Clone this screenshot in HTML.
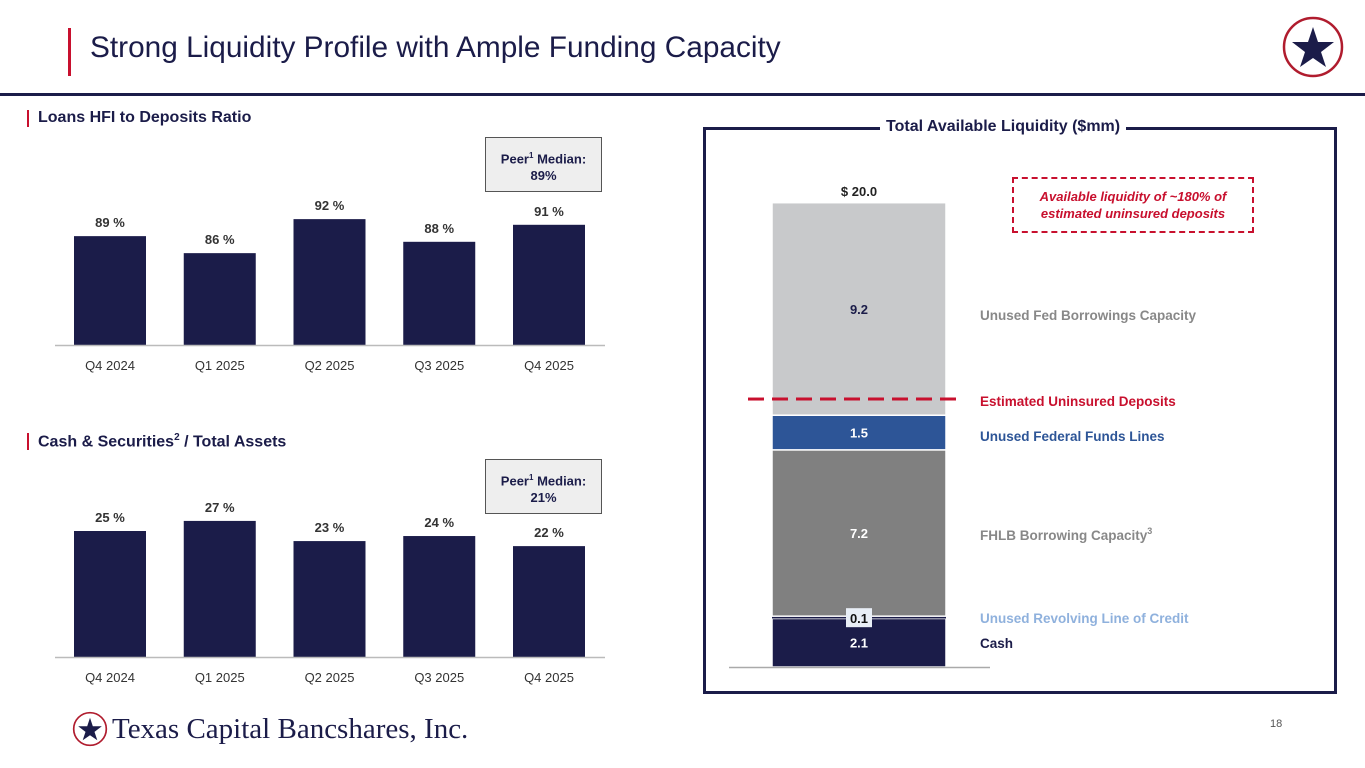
<!DOCTYPE html>
<html><head><meta charset="utf-8">
<style>
body{margin:0;width:1365px;height:768px;background:#fff;font-family:"Liberation Sans",Arial,sans-serif;overflow:hidden;position:relative}
.abs{position:absolute}
.b{font-weight:bold}
</style></head><body>
<div class="abs" style="left:68px;top:28px;width:3px;height:48px;background:#c8102e"></div>
<div class="abs" style="left:90px;top:31px;font-size:29.8px;color:#1b1c49">Strong Liquidity Profile with Ample Funding Capacity</div>
<svg class="abs" style="left:1281px;top:15px" width="64" height="64" viewBox="0 0 64 64"><circle cx="32" cy="32" r="29" fill="#fff" stroke="#b01c2e" stroke-width="2.5"/><polygon points="32,12 37,27 53,27 40,37 45,52 32,43 19,52 24,37 11,27 27,27" fill="#1b1c49"/></svg>
<div class="abs" style="left:0;top:93px;width:1365px;height:3px;background:#1b1c49"></div>

<div class="abs" style="left:27px;top:110px;width:2px;height:17px;background:#c8102e"></div>
<div class="abs b" style="left:38px;top:109px;font-size:16px;color:#1b1c49">Loans HFI to Deposits Ratio</div>
<div class="abs" style="left:27px;top:433px;width:2px;height:17px;background:#c8102e"></div>
<div class="abs b" style="left:38px;top:432px;font-size:16px;color:#1b1c49">Cash &amp; Securities<sup style="font-size:10px">2</sup> / Total Assets</div>

<div class="abs b" style="left:485px;top:137px;width:117px;height:55px;background:#eeeeee;border:1px solid #555;font-size:13px;color:#1b1c49;text-align:center;line-height:17px;padding-top:9px;box-sizing:border-box">Peer<sup style="font-size:8px">1</sup> Median:<br>89%</div>
<div class="abs b" style="left:485px;top:459px;width:117px;height:55px;background:#eeeeee;border:1px solid #555;font-size:13px;color:#1b1c49;text-align:center;line-height:17px;padding-top:9px;box-sizing:border-box">Peer<sup style="font-size:8px">1</sup> Median:<br>21%</div>

<svg class="abs" id="left" style="left:0;top:0" width="700" height="768"></svg>

<div class="abs" style="left:703px;top:127px;width:634px;height:567px;border:3px solid #1b1c49;box-sizing:border-box"></div>
<div class="abs b" style="left:880px;top:118px;padding:0 6px;background:#fff;font-size:16px;color:#1b1c49">Total Available Liquidity ($mm)</div>
<div class="abs" style="left:1012px;top:177px;width:242px;height:56px;border:2px dashed #c8102e;box-sizing:border-box;color:#c8102e;font-size:13px;font-weight:bold;font-style:italic;text-align:center;line-height:17px;padding-top:9px">Available liquidity of ~180% of<br>estimated uninsured deposits</div>
<svg class="abs" id="right" style="left:0;top:0" width="1365" height="768"></svg>

<div class="abs" style="left:72px;top:711px;display:flex;align-items:center">
<svg width="36" height="36" viewBox="0 0 64 64"><circle cx="32" cy="32" r="29" fill="#fff" stroke="#b01c2e" stroke-width="3"/><polygon points="32,12 37,27 53,27 40,37 45,52 32,43 19,52 24,37 11,27 27,27" fill="#1b1c49"/></svg>
<span style="font-family:'Liberation Serif',serif;font-size:29px;color:#1b1c49;margin-left:4px">Texas Capital Bancshares, Inc.</span></div>
<div class="abs" style="left:1270px;top:718px;font-size:11px;color:#555">18</div>

<script>
const NS="http://www.w3.org/2000/svg";
const categories=["Q4 2024","Q1 2025","Q2 2025","Q3 2025","Q4 2025"];
const loansRatio=[89,86,92,88,91];
const cashRatio=[25,27,23,24,22];
const stackLabels=["Cash","Unused Revolving Line of Credit","FHLB Borrowing Capacity","Unused Federal Funds Lines","Unused Fed Borrowings Capacity"];
const stackValues=[2.1,0.1,7.2,1.5,9.2];
const stackTotal=20.0;
const uninsuredDeposits=11.6;
function mk(p,t,a,txt){const e=document.createElementNS(NS,t);for(const k in a)e.setAttribute(k,a[k]);if(txt!==undefined)e.textContent=txt;p.appendChild(e);return e;}
const L=document.getElementById('left');
function barChart(vals,base,min,k,prefix){
  const xc=i=>110+i*109.75;
  const y=v=>base-(v-min)*k;
  vals.forEach((v,i)=>{
    const r=mk(L,'rect',{x:xc(i)-36,y:y(v),width:72,height:base-y(v),fill:'#1b1c49'});
    
    
    const t=mk(L,'text',{x:xc(i),y:y(v)-9,'text-anchor':'middle','font-size':13,'font-weight':'bold',fill:'#333'},v+' %');
    
    
    const c=mk(L,'text',{x:xc(i),y:base+25,'text-anchor':'middle','font-size':13,fill:'#333'},categories[i]);
    
    
  });
  const ax=mk(L,'line',{x1:55,x2:605,y1:base+0.5,y2:base+0.5,stroke:'#bbb','stroke-width':1.5});
  
  
}
barChart(loansRatio,345,69.8,5.67,'loans');
barChart(cashRatio,657,0,5.04,'cash');

const R=document.getElementById('right');
const base=667,top0=205,k=(base-top0)/stackTotal;
const ys=v=>base-v*k;
const fills=['#1b1c49','#1b1c49','#808080','#2d5597','#c8c9cb'];
const lblColors=['#1b1c49','#8fb1dd','#888','#2d5597','#888'];
const lblY=[648,623,540,441,320];
let cum=0;let smallY=0;
stackValues.forEach((v,i)=>{
  const y0=ys(cum),y1=ys(cum+v);
  const r=mk(R,'rect',{x:772,y:y1,width:174,height:y0-y1,fill:fills[i],stroke:'#fff','stroke-width':i==1?0:1.5});
  
  
  if(i==1){ smallY=y1; }
  else {
    const t=mk(R,'text',{x:859,y:(y0+y1)/2+5,'text-anchor':'middle','font-size':13,'font-weight':'bold',fill:i==4?'#1b1c49':'#fff'},v.toFixed(1));
    
    
  }
  const lt=mk(R,'text',{x:980,y:lblY[i],'font-size':13.5,'font-weight':'bold',fill:lblColors[i]},stackLabels[i]);
  
  
  if(i==2){mk(lt,'tspan',{'font-size':9,dy:-6},'3');}
  cum+=v;
});
const sb=mk(R,'rect',{x:846,y:smallY-8,width:26,height:19,fill:'#e8eef6'});


const st=mk(R,'text',{x:859,y:smallY+7,'text-anchor':'middle','font-size':13,'font-weight':'bold',fill:'#111'},stackValues[1].toFixed(1));


const tot=mk(R,'text',{x:859,y:top0-9,'text-anchor':'middle','font-size':13,'font-weight':'bold',fill:'#222'},'$ '+stackTotal.toFixed(1));


const ax=mk(R,'line',{x1:729,x2:990,y1:base+0.5,y2:base+0.5,stroke:'#aaa','stroke-width':1.5});


const dl=mk(R,'line',{x1:748,x2:964,y1:ys(uninsuredDeposits),y2:ys(uninsuredDeposits),stroke:'#c8102e','stroke-width':3,'stroke-dasharray':'16,8'});


const dt=mk(R,'text',{x:980,y:ys(uninsuredDeposits)+7,'font-size':13.5,'font-weight':'bold',fill:'#c8102e'},'Estimated Uninsured Deposits');


</script>
</body></html>
